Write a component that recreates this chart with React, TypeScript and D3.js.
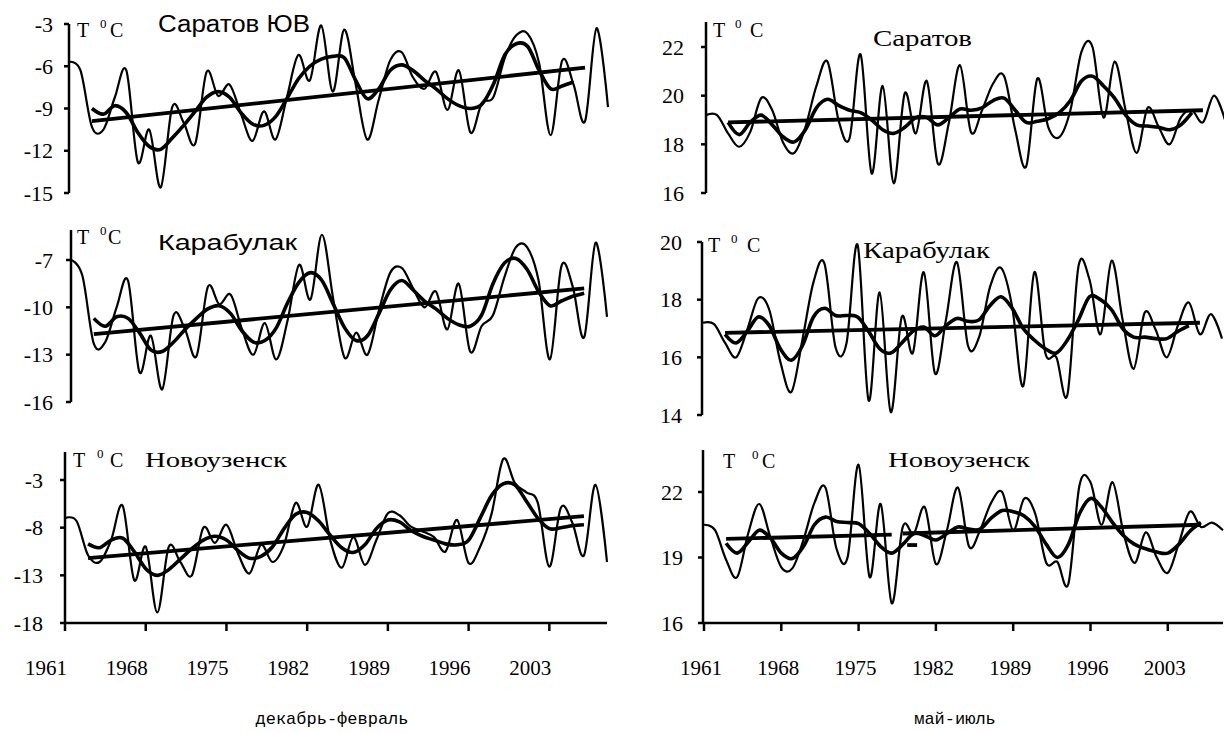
import React from "react";
import * as d3 from "d3";

// ---------- data ----------
const YEARS = d3.range(1961, 2009);
const X_TICKS = [1961, 1968, 1975, 1982, 1989, 1996, 2003];
const SMOOTH_START = 1963;

// декабрь-февраль
const saratovWinter = [-5.7, -6.3, -10.3, -10.5, -8.2, -6.3, -12.8, -10.5, -14.6, -8.9, -10.0, -11.5, -6.4, -8.1, -7.3, -9.4, -11.3, -9.2, -11.2, -8.2, -5.2, -7.0, -3.1, -7.8, -3.4, -7.3, -11.2, -8.4, -5.6, -5.0, -6.8, -7.6, -6.4, -9.1, -6.3, -10.7, -8.6, -8.2, -5.4, -3.8, -3.7, -5.8, -10.9, -5.6, -7.3, -9.9, -3.3, -8.9];
const saratovWinterSmooth = [-9.0, -9.4, -8.8, -9.3, -10.7, -11.7, -11.9, -11.1, -10.2, -9.2, -8.2, -7.8, -8.2, -9.3, -10.1, -10.2, -9.6, -8.3, -6.9, -6.0, -5.5, -5.3, -5.4, -7.0, -8.3, -7.6, -6.3, -5.9, -6.3, -7.0, -7.6, -8.3, -8.8, -9.0, -8.7, -7.3, -5.2, -4.4, -4.6, -6.3, -7.6, -7.4, -7.1];
const saratovWinterTrend = [-9.9, -6.1];
const saratovWinterTicks = [-15, -12, -9, -6, -3];

const karabulakWinter = [-7.0, -8.0, -12.3, -12.2, -10.0, -8.3, -14.1, -11.8, -15.2, -10.5, -11.4, -13.1, -8.7, -9.8, -9.2, -11.4, -13.0, -11.0, -13.3, -10.8, -7.3, -9.5, -5.4, -9.5, -13.2, -11.6, -13.0, -10.2, -7.8, -7.5, -8.8, -10.0, -9.0, -11.4, -8.5, -12.8, -11.2, -10.5, -8.1, -6.2, -6.2, -8.3, -13.3, -7.4, -8.7, -11.9, -5.9, -10.6];
const karabulakWinterSmooth = [-10.7, -11.2, -10.6, -10.7, -11.6, -12.7, -12.8, -12.2, -11.4, -10.7, -10.1, -9.9, -10.4, -11.5, -12.2, -12.1, -11.3, -9.7, -8.4, -7.8, -8.3, -9.8, -11.3, -12.1, -11.8, -10.4, -8.9, -8.3, -8.9, -9.6, -10.1, -10.7, -11.1, -11.2, -10.5, -8.5, -7.2, -6.9, -7.6, -9.0, -9.9, -9.6, -9.3, -9.1];
const karabulakWinterTrend = [-11.7, -8.8];
const karabulakWinterTicks = [-16, -13, -10, -7];

const novouzenskWinter = [-7.0, -7.3, -10.9, -11.6, -9.3, -5.7, -13.5, -10.0, -16.9, -10.0, -11.6, -13.0, -8.0, -9.6, -7.7, -10.7, -12.8, -9.8, -11.6, -9.8, -5.4, -7.9, -3.5, -9.3, -12.2, -9.0, -11.9, -9.3, -6.5, -6.7, -7.9, -8.4, -9.0, -10.5, -7.2, -11.7, -10.0, -6.5, -0.8, -3.3, -4.3, -5.4, -12.1, -5.9, -7.5, -10.9, -3.5, -11.6];
const novouzenskWinterSmooth = [-9.7, -10.1, -9.3, -9.1, -10.5, -12.3, -13.0, -12.4, -11.3, -10.2, -9.3, -8.9, -9.3, -10.4, -11.2, -11.0, -10.0, -8.1, -6.6, -6.4, -7.3, -8.8, -10.1, -10.6, -9.8, -8.1, -7.2, -7.4, -8.3, -8.9, -9.3, -9.7, -9.8, -9.3, -7.0, -4.6, -3.4, -3.5, -5.2, -7.0, -8.1, -8.0, -7.8, -7.7];
const novouzenskWinterTrend = [-11.2, -6.8];
const novouzenskWinterTicks = [-18, -13, -8, -3];

// май-июль
const saratovSummer = [19.2, 19.2, 18.45, 17.9, 18.5, 19.9, 19.4, 18.05, 17.65, 18.7, 20.4, 21.4, 19.0, 18.25, 21.7, 16.8, 20.4, 16.4, 20.1, 18.45, 20.6, 17.2, 18.9, 21.25, 18.5, 19.4, 20.5, 20.8, 18.6, 17.1, 20.7, 18.7, 18.3, 19.4, 21.8, 22.0, 19.1, 21.4, 19.4, 17.65, 19.5, 18.7, 18.0, 19.1, 19.4, 18.9, 20.0, 19.0];
const saratovSummerSmooth = [18.9, 18.4, 18.9, 19.2, 18.8, 18.3, 18.1, 18.6, 19.5, 19.85, 19.6, 19.4, 19.3, 19.0, 18.6, 18.45, 18.7, 19.1, 19.1, 18.8, 19.1, 19.45, 19.4, 19.5, 19.8, 19.9, 19.4, 18.9, 18.95, 19.05, 19.3, 19.8, 20.6, 20.8, 20.4, 19.9, 19.2, 18.8, 18.75, 18.7, 18.6, 18.8, 19.3];
const saratovSummerTrend = [18.9, 19.4];
const saratovSummerTicks = [16, 18, 20, 22];

const karabulakSummer = [17.2, 17.15, 16.5, 16.0, 16.95, 18.05, 17.65, 15.85, 14.8, 16.6, 18.6, 19.25, 16.35, 16.5, 19.9, 14.5, 18.25, 14.1, 17.4, 16.15, 18.95, 15.45, 17.3, 19.3, 16.4, 16.7, 18.45, 19.1, 17.75, 15.0, 18.95, 16.15, 16.0, 14.7, 19.15, 18.7, 16.8, 19.35, 17.3, 15.6, 17.55, 16.95, 16.0, 17.1, 17.9, 16.8, 17.5, 16.65];
const karabulakSummerSmooth = [16.8, 16.5, 16.9, 17.4, 17.1, 16.3, 15.9, 16.4, 17.4, 17.7, 17.45, 17.45, 17.4, 16.9, 16.3, 16.15, 16.5, 16.9, 17.05, 16.75, 17.1, 17.35, 17.25, 17.3, 17.8, 18.1, 17.7, 17.0, 16.6, 16.3, 16.15, 16.6, 17.3, 18.1, 18.0, 17.65, 17.0, 16.7, 16.7, 16.65, 16.65, 16.9, 17.1];
const karabulakSummerTrend = [16.85, 17.2];
const karabulakSummerTicks = [14, 16, 18, 20];

const novouzenskSummer = [20.5, 20.25, 18.9, 18.1, 20.1, 21.45, 19.95, 18.55, 18.5, 19.8, 21.5, 22.2, 19.4, 19.0, 23.25, 18.1, 21.45, 16.9, 20.4, 20.1, 21.3, 18.7, 20.25, 22.2, 19.5, 20.25, 21.5, 22.0, 20.25, 21.7, 21.0, 18.75, 18.8, 17.8, 22.3, 22.45, 20.5, 22.45, 20.1, 18.75, 20.15, 19.0, 18.3, 19.65, 21.1, 20.4, 20.6, 20.25];
const novouzenskSummerSmooth = [19.65, 19.2, 19.7, 20.25, 19.9, 19.2, 18.95, 19.5, 20.5, 20.85, 20.65, 20.6, 20.55, 20.1, 19.5, 19.2, 19.6, 20.1, 20.0, 19.8, 20.1, 20.4, 20.3, 20.3, 20.8, 21.15, 21.1, 20.9, 20.4, 19.6, 19.0, 19.6, 21.0, 21.7, 21.3, 20.6, 20.0, 19.6, 19.4, 19.25, 19.2, 19.6, 20.2, 20.6];
const novouzenskSummerTrendA = [19.85, 20.05];
const novouzenskSummerTrendB = [20.1, 20.5];
const novouzenskSummerTrendDash = [19.57, 19.57];
const novouzenskSummerTicks = [16, 19, 22];

const TREND_YEARS = [1963, 2006];
const TREND_A_YEARS = [1963, 1978];
const TREND_B_YEARS = [1979, 2006];
const TREND_DASH_YEARS = [1979.4, 1980.3];

// ---------- layout ----------
type Trend = { years: number[]; values: number[] };
type Panel = {
  annual: number[];
  smooth: number[];
  trends: Trend[];
  ticks: number[];
  x0: number; x1: number;
  yBottom: number; yTop: number; axisTop: number; axisX: number;
  labelRight: number;
  xAxis: boolean; xLabelOffset: number;
  tc: { x: number; y: number; zx: number; cx: number };
  title: { text: string; x: number; y: number; size: number; width: number; family: string };
};

const SERIF = "'Times New Roman', 'Liberation Serif', Tinos, serif";
const SANS = "Arial, 'Liberation Sans', sans-serif";
const MONO = "'Courier New', 'Liberation Mono', Cousine, monospace";

const panels: Panel[] = [
  {
    annual: saratovWinter, smooth: saratovWinterSmooth,
    trends: [{ years: TREND_YEARS, values: saratovWinterTrend }],
    ticks: saratovWinterTicks, x0: 69, x1: 608, yBottom: 193, yTop: 24, axisTop: 24, axisX: 69,
    labelRight: 53, xAxis: false, xLabelOffset: 0,
    tc: { x: 77, y: 37, zx: 100, cx: 110 },
    title: { text: "Саратов ЮВ", x: 158, y: 32, size: 23, width: 152, family: SANS },
  },
  {
    annual: karabulakWinter, smooth: karabulakWinterSmooth,
    trends: [{ years: TREND_YEARS, values: karabulakWinterTrend }],
    ticks: karabulakWinterTicks, x0: 71, x1: 607, yBottom: 402, yTop: 260, axisTop: 230, axisX: 71,
    labelRight: 53, xAxis: false, xLabelOffset: 0,
    tc: { x: 77, y: 244, zx: 100, cx: 108 },
    title: { text: "Карабулак", x: 158, y: 250, size: 22, width: 139, family: SANS },
  },
  {
    annual: novouzenskWinter, smooth: novouzenskWinterSmooth,
    trends: [{ years: TREND_YEARS, values: novouzenskWinterTrend }],
    ticks: novouzenskWinterTicks, x0: 65, x1: 607, yBottom: 623, yTop: 480, axisTop: 452, axisX: 65,
    labelRight: 43, xAxis: true, xLabelOffset: -19,
    tc: { x: 73, y: 467, zx: 97, cx: 110 },
    title: { text: "Новоузенск", x: 145, y: 467, size: 22, width: 142, family: SERIF },
  },
  {
    annual: saratovSummer, smooth: saratovSummerSmooth,
    trends: [{ years: TREND_YEARS, values: saratovSummerTrend }],
    ticks: saratovSummerTicks, x0: 706, x1: 1225, yBottom: 193, yTop: 47, axisTop: 22, axisX: 706,
    labelRight: 684, xAxis: false, xLabelOffset: 0,
    tc: { x: 713, y: 37, zx: 735, cx: 750 },
    title: { text: "Саратов", x: 873, y: 46, size: 24, width: 99, family: SERIF },
  },
  {
    annual: karabulakSummer, smooth: karabulakSummerSmooth,
    trends: [{ years: TREND_YEARS, values: karabulakSummerTrend }],
    ticks: karabulakSummerTicks, x0: 703, x1: 1222, yBottom: 415, yTop: 242, axisTop: 242, axisX: 702,
    labelRight: 682, xAxis: false, xLabelOffset: 0,
    tc: { x: 708, y: 252, zx: 731, cx: 747 },
    title: { text: "Карабулак", x: 863, y: 258, size: 23, width: 127, family: SERIF },
  },
  {
    annual: novouzenskSummer, smooth: novouzenskSummerSmooth,
    trends: [
      { years: TREND_A_YEARS, values: novouzenskSummerTrendA },
      { years: TREND_B_YEARS, values: novouzenskSummerTrendB },
      { years: TREND_DASH_YEARS, values: novouzenskSummerTrendDash },
    ],
    ticks: novouzenskSummerTicks, x0: 704, x1: 1223, yBottom: 623, yTop: 492, axisTop: 450, axisX: 703,
    labelRight: 683, xAxis: true, xLabelOffset: -3,
    tc: { x: 723, y: 468, zx: 752, cx: 762 },
    title: { text: "Новоузенск", x: 888, y: 467, size: 22, width: 142, family: SERIF },
  },
];

function PanelView({ p }: { p: Panel }) {
  const x = d3.scaleLinear().domain([YEARS[0], YEARS[YEARS.length - 1]]).range([p.x0, p.x1]);
  const tMin = d3.min(p.ticks) as number;
  const tMax = d3.max(p.ticks) as number;
  const y = d3.scaleLinear().domain([tMin, tMax]).range([p.yBottom, p.yTop]);

  const curve = d3.curveCatmullRom.alpha(0);
  const annualLine = d3.line<number>().x((_, i) => x(YEARS[i])).y((d) => y(d)).curve(curve);
  const smoothLine = d3.line<number>().x((_, i) => x(SMOOTH_START + i)).y((d) => y(d)).curve(curve);

  return (
    <g>
      <line x1={p.axisX} x2={p.axisX} y1={p.axisTop} y2={y(tMin)} stroke="#000" strokeWidth={2.5} />
      {p.ticks.map((t) => (
        <g key={t}>
          <line x1={p.axisX - 5} x2={p.axisX} y1={y(t)} y2={y(t)} stroke="#000" strokeWidth={2.5} />
          <text x={p.labelRight} y={y(t)} dy="0.35em" textAnchor="end" fontFamily={SERIF} fontSize={22} fill="#000">
            {String(t)}
          </text>
        </g>
      ))}
      {p.xAxis && (
        <g>
          <line x1={p.axisX} x2={p.x1} y1={y(tMin)} y2={y(tMin)} stroke="#000" strokeWidth={2.5} />
          {X_TICKS.map((t) => (
            <g key={t}>
              <line x1={x(t)} x2={x(t)} y1={y(tMin)} y2={y(tMin) + 8} stroke="#000" strokeWidth={2.5} />
              <text x={x(t) + p.xLabelOffset} y={y(tMin) + 52} textAnchor="middle" fontFamily={SERIF} fontSize={21} fill="#000">
                {String(t)}
              </text>
            </g>
          ))}
        </g>
      )}
      <path d={annualLine(p.annual) || ""} fill="none" stroke="#000" strokeWidth={2.2} />
      <path d={smoothLine(p.smooth) || ""} fill="none" stroke="#000" strokeWidth={3.6} />
      {p.trends.map((tr, i) => {
        const l = d3.line<number>().x((_, j) => x(tr.years[j])).y((d) => y(d));
        return <path key={i} d={l(tr.values) || ""} fill="none" stroke="#000" strokeWidth={3.8} />;
      })}
      <text x={p.tc.x} y={p.tc.y} fontFamily={SERIF} fontSize={20} fill="#000">T</text>
      <text x={p.tc.zx} y={p.tc.y - 9} fontFamily={SERIF} fontSize={13} fill="#000">0</text>
      <text x={p.tc.cx} y={p.tc.y} fontFamily={SERIF} fontSize={20} fill="#000">C</text>
      <text
        x={p.title.x}
        y={p.title.y}
        fontFamily={p.title.family}
        fontSize={p.title.size}
        textLength={p.title.width}
        lengthAdjust="spacingAndGlyphs"
        fill="#000"
      >
        {p.title.text}
      </text>
    </g>
  );
}

export default function App() {
  return (
    <svg
      width={1224}
      height={733}
      viewBox="0 0 1224 733"
      style={{ position: "absolute", left: 0, top: 0, background: "#fff" }}
    >
      <rect x={0} y={0} width={1224} height={733} fill="#fff" />
      {panels.map((p, i) => (
        <PanelView key={i} p={p} />
      ))}
      <text x={332} y={724} textAnchor="middle" fontFamily={MONO} fontSize={17} fill="#000">
        декабрь-февраль
      </text>
      <text x={955} y={724} textAnchor="middle" fontFamily={MONO} fontSize={17} fill="#000">
        май-июль
      </text>
    </svg>
  );
}
